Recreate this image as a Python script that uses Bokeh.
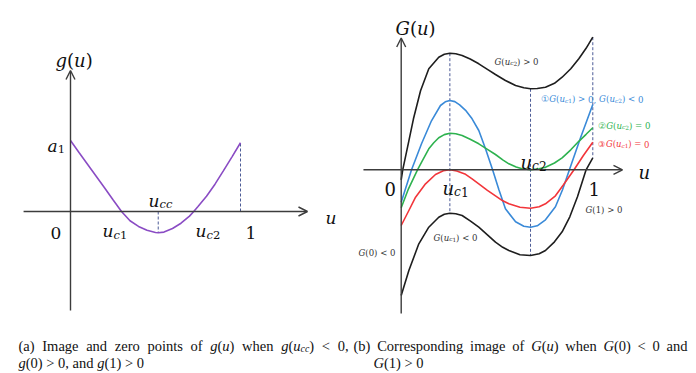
import glob, os, re
import numpy as np
from bokeh.plotting import figure
from bokeh.models import Range1d, Label, Arrow, OpenHead
from bokeh.embed import file_html
from bokeh.resources import INLINE

# ---------------- data: panel (a)  g(u) ----------------
a_u = [0.00, 0.05, 0.10, 0.15, 0.20, 0.25, 0.30, 0.35, 0.40, 0.45, 0.50, 0.516,
       0.55, 0.60, 0.65, 0.70, 0.725, 0.75, 0.80, 0.85, 0.90, 0.95, 1.00]
a_g = [1.00, 0.83, 0.665, 0.50, 0.335, 0.165, 0.00, -0.13, -0.21, -0.265, -0.295, -0.30,
       -0.29, -0.24, -0.165, -0.065, 0.00, 0.07, 0.215, 0.385, 0.575, 0.77, 0.968]
a_uc1 = 0.30
a_ucc = 0.516
a_uc2 = 0.725

# ---------------- data: panel (b)  G(u) ----------------
b_uc1 = 0.254
b_uc2 = 0.675
top_u = [0.000, 0.008, 0.040, 0.064, 0.101, 0.144, 0.196, 0.225, 0.254, 0.285, 0.318, 0.360, 0.405,
         0.450, 0.492, 0.544, 0.597, 0.640, 0.675, 0.710, 0.753, 0.800, 0.840, 0.885, 0.927, 0.965, 1.000]
top_G = [-0.10, 0.00, 0.29, 0.51, 0.79, 1.01, 1.126, 1.155, 1.166, 1.160, 1.143, 1.108, 1.06,
         1.005, 0.953, 0.893, 0.843, 0.82, 0.81, 0.813, 0.826, 0.865, 0.926, 1.01, 1.11, 1.215, 1.326]
blue_u = [0.000, 0.054, 0.106, 0.158, 0.205, 0.230, 0.254, 0.280, 0.305, 0.336, 0.370, 0.405, 0.440,
          0.477, 0.510, 0.544, 0.597, 0.640, 0.675, 0.710, 0.753, 0.805, 0.842, 0.878, 0.936, 1.000]
blue_G = [-0.324, 0.00, 0.26, 0.49, 0.643, 0.68, 0.693, 0.682, 0.65, 0.595, 0.51, 0.393, 0.21,
          0.00, -0.20, -0.39, -0.52, -0.565, -0.574, -0.56, -0.50, -0.37, -0.20, 0.00, 0.32, 0.653]
green_u = [0.000, 0.038, 0.085, 0.110, 0.144, 0.170, 0.196, 0.225, 0.254, 0.285, 0.318, 0.360, 0.405,
           0.450, 0.492, 0.530, 0.562, 0.600, 0.631, 0.675, 0.720, 0.753, 0.800, 0.840, 0.885, 0.927,
           0.965, 1.000]
green_G = [-0.38, -0.19, 0.00, 0.09, 0.21, 0.27, 0.32, 0.352, 0.366, 0.36, 0.343, 0.305, 0.26,
           0.205, 0.153, 0.10, 0.06, 0.027, 0.01, 0.00, 0.01, 0.026, 0.068, 0.12, 0.20, 0.285,
           0.355, 0.42]
red_u = [0.000, 0.040, 0.075, 0.127, 0.179, 0.220, 0.254, 0.290, 0.336, 0.370, 0.405, 0.450, 0.492,
         0.530, 0.562, 0.620, 0.675, 0.720, 0.753, 0.805, 0.847, 0.902, 0.950, 1.000]
red_G = [-0.557, -0.407, -0.274, -0.14, -0.047, -0.01, 0.00, -0.012, -0.045, -0.09, -0.14, -0.205, -0.26,
         -0.31, -0.34, -0.375, -0.384, -0.37, -0.34, -0.26, -0.15, 0.00, 0.14, 0.276]
bot_u = [0.000, 0.040, 0.092, 0.144, 0.196, 0.225, 0.254, 0.285, 0.318, 0.360, 0.405, 0.450, 0.492,
         0.530, 0.562, 0.620, 0.675, 0.720, 0.753, 0.800, 0.840, 0.880, 0.920, 0.965, 1.000]
bot_G = [-1.257, -1.007, -0.74, -0.574, -0.474, -0.445, -0.434, -0.44, -0.457, -0.51, -0.574, -0.65, -0.724,
         -0.775, -0.807, -0.85, -0.857, -0.84, -0.807, -0.72, -0.62, -0.47, -0.27, 0.00, 0.12]

# ---------------- layout ----------------
W, H = 696, 373
OX, OY = 0, 0
A_ORIG, A_SCALE = (70.0, 211.0), (170.0, 71.0)
B_ORIG, B_SCALE = (400.7, 169.3), (191.6, 100.0)
A_XAX, A_YAX = (-0.276, 1.394), (-1.394, 1.986)
B_XAX, B_YAX = (-0.197, 1.155), (-1.437, 1.318)

PURPLE = "#8a4cc4"
BLUE = "#3a8ad8"
GREEN = "#2eb24f"
RED = "#f2353a"
DARK = "#1e1e1e"
AXC = "#3c3c3c"
DASH = "#4b5a96"
MATH = "DejaVu Serif"
CAP = "Liberation Serif"


def ranges(orig, scale):
    ox, oy = orig
    sx, sy = scale
    xr = Range1d((OX - ox) / sx, (OX + W - ox) / sx)
    yr = Range1d((oy - (OY + H)) / sy, (oy - OY) / sy)
    return xr, yr


p = figure(width=W, height=H, x_range=Range1d(OX, OX + W), y_range=Range1d(OY + H, OY),
           output_backend="svg", toolbar_location=None, x_axis_location=None,
           y_axis_location=None, min_border=0, outline_line_color=None)
p.xgrid.visible = False
p.ygrid.visible = False
axr, ayr = ranges(A_ORIG, A_SCALE)
bxr, byr = ranges(B_ORIG, B_SCALE)
p.extra_x_ranges = {"au": axr, "bu": bxr}
p.extra_y_ranges = {"ag": ayr, "bG": byr}
p.background_fill_color = "white"
p.border_fill_color = "white"

A = dict(x_range_name="au", y_range_name="ag")
B = dict(x_range_name="bu", y_range_name="bG")


def axis_arrows(xax, yax, names):
    for (xs, ys, xe, ye) in [(xax[0], 0, xax[1], 0), (0, yax[0], 0, yax[1])]:
        p.add_layout(Arrow(end=OpenHead(size=9, line_color=AXC, line_width=1.4),
                           x_start=xs, y_start=ys, x_end=xe, y_end=ye,
                           line_color=AXC, line_width=1.4, **names))


axis_arrows(A_XAX, A_YAX, A)
axis_arrows(B_XAX, B_YAX, B)

# panel (a)
a_gmin = a_g[a_u.index(a_ucc)]
p.segment(x0=[a_ucc, a_u[-1]], y0=[0, 0], x1=[a_ucc, a_u[-1]], y1=[a_gmin, a_g[-1]],
          line_color=DASH, line_width=1, line_dash="3 2", **A)
p.line(a_u, a_g, line_color=PURPLE, line_width=1.6, **A)

# panel (b)
dx = [b_uc1, b_uc2, 1.0]
p.segment(x0=dx, y0=[float(np.interp(v, top_u, top_G)) for v in dx],
          x1=dx, y1=[float(np.interp(v, bot_u, bot_G)) for v in dx],
          line_color=DASH, line_width=1, line_dash="3 2", **B)
for xs, ys, c in [(top_u, top_G, DARK), (blue_u, blue_G, BLUE), (green_u, green_G, GREEN),
                  (red_u, red_G, RED), (bot_u, bot_G, DARK)]:
    p.line(xs, ys, line_color=c, line_width=1.6, **B)

# ---------------- text helpers ----------------
FONT_FILES = {
    (MATH, False): "DejaVuSerif.ttf", (MATH, True): "DejaVuSerif-Italic.ttf",
    (CAP, False): "LiberationSerif-Regular.ttf", (CAP, True): "LiberationSerif-Italic.ttf",
}
_paths = {}
_fonts = {}


def font_path(family, italic):
    key = (family, italic)
    if key not in _paths:
        found = None
        for d in ["/usr/share/fonts", "/usr/local/share/fonts",
                  os.path.expanduser("~/.fonts"), os.path.expanduser("~/.local/share/fonts")]:
            hits = glob.glob(os.path.join(d, "**", FONT_FILES[key]), recursive=True)
            if hits:
                found = hits[0]
                break
        _paths[key] = found
    return _paths[key]


def measure(text, family, italic, size):
    total = 0.0
    normal = ""
    for ch in text:
        if 0x2460 <= ord(ch) <= 0x2473:
            total += 1.0 * size
        else:
            normal += ch
    if not normal:
        return total
    try:
        from PIL import ImageFont
        path = font_path(family, italic)
        k = (path, int(round(size * 20)))
        if k not in _fonts:
            _fonts[k] = ImageFont.truetype(path, k[1])
        return total + _fonts[k].getlength(normal) / 20.0
    except Exception:
        f = 0.58 if family == MATH else 0.47
        return total + len(normal) * f * size


SUB = 0.68


def parse(s, math):
    out = []
    in_math = math
    sub = False
    i = 0
    while i < len(s):
        c = s[i]
        if c == "$":
            in_math = not in_math
            i += 1
            continue
        if s.startswith("_{", i):
            sub = True
            i += 2
            continue
        if c == "}" and sub:
            sub = False
            i += 1
            continue
        it = in_math and c.isascii() and c.isalpha()
        if out and out[-1][1] == it and out[-1][2] == sub:
            out[-1][0] += c
        else:
            out.append([c, it, sub])
        i += 1
    return out


def mtext(x, y, s, size, color="#111111", family=MATH, math=True, fit=None, justify=None):
    pieces = parse(s, math)

    def natural(sz):
        return sum(measure(t, family, it, sz * (SUB if sb else 1)) for t, it, sb in pieces)

    nat = natural(size)
    if fit:
        size = size * fit / nat
        nat = natural(size)
    extra = 0.0
    if justify:
        nsp = sum(t.count(" ") for t, it, sb in pieces)
        if nsp:
            extra = (justify - nat) / nsp
    cur = x
    for t, it, sb in pieces:
        fs = size * SUB if sb else size
        yy = y + (0.22 * size if sb else 0.0)
        for tok in re.split(r"( )", t):
            if tok == "":
                continue
            if tok == " ":
                cur += measure(" ", family, it, fs) + extra
                continue
            p.add_layout(Label(x=cur, y=yy, text=tok, text_font=family,
                               text_font_size=f"{fs:.2f}px",
                               text_font_style="italic" if it else "normal",
                               text_color=color, text_align="left",
                               text_baseline="alphabetic"))
            cur += measure(tok, family, it, fs)


# panel (a) labels
mtext(55, 60, "g(u)", 18)
mtext(47, 145, "a_{1}", 17)
mtext(50, 232, "0", 17)
mtext(102, 230.5, "u_{c1}", 17)
mtext(148, 200, "u_{cc}", 17)
mtext(195, 230.5, "u_{c2}", 17)
mtext(245, 232, "1", 17)
mtext(325, 217, "u", 17)

# panel (b) labels
mtext(395, 28, "G(u)", 18)
mtext(384, 188, "0", 18)
mtext(442, 188, "u_{c1}", 18)
mtext(520, 161.5, "u_{c2}", 18)
mtext(588, 188, "1", 18)
mtext(638, 172, "u", 18)

NOTE = "#333333"
mtext(494, 61, "G(u_{c2}) > 0", 9, NOTE, fit=44)
mtext(540, 98.5, "\u2460G(u_{c1}) > 0, G(u_{c2}) < 0", 9, BLUE, fit=103)
mtext(597, 125, "\u2461G(u_{c2}) = 0", 9, GREEN, fit=53)
mtext(597, 143.5, "\u2462G(u_{c1}) = 0", 9, RED, fit=52)
mtext(585, 209, "G(1) > 0", 9, NOTE, fit=37)
mtext(433, 237, "G(u_{c1}) < 0", 9, NOTE, fit=44)
mtext(358, 252, "G(0) < 0", 9, NOTE, fit=37)

# captions
mtext(18, 345, "(a) Image and zero points of $g$($u$) when $g$($u_{cc}$) < 0,", 14.5, "#111111",
      family=CAP, math=False, justify=330)
mtext(18, 362.5, "$g$(0) > 0, and $g$(1) > 0", 14.5, "#111111", family=CAP, math=False)
mtext(353, 345, "(b) Corresponding image of $G$($u$) when $G$(0) < 0 and", 14.5, "#111111",
      family=CAP, math=False, justify=334)
mtext(373, 362.5, "$G$(1) > 0", 14.5, "#111111", family=CAP, math=False)

open("out.html", "w").write(file_html(p, INLINE))
